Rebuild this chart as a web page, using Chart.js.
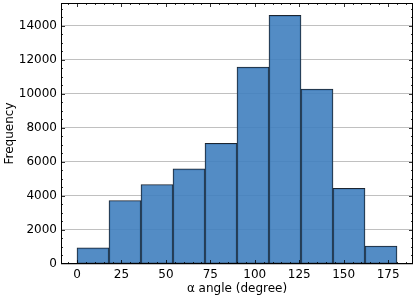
<!DOCTYPE html>
<html>
<head>
<meta charset="utf-8">
<script src="https://cdn.jsdelivr.net/npm/chart.js@4"></script>
<style>
  html, body { margin: 0; padding: 0; background: #fff; }
  #wrap { width: 415px; height: 299px; }
</style>
</head>
<body>
<div id="wrap"><canvas id="hist"></canvas></div>
<script>
// Histogram bins (degrees) and counts
const binEdges = [0, 18, 36, 54, 72, 90, 108, 126, 144, 162, 180];
const counts = [950, 3730, 4670, 5590, 7090, 11560, 14600, 10270, 4450, 1055];
const xTicks = [0, 25, 50, 75, 100, 125, 150, 175];
const yTicks = [0, 2000, 4000, 6000, 8000, 10000, 12000, 14000];

const histData = counts.map((c, i) => ({ x: (binEdges[i] + binEdges[i + 1]) / 2, y: c }));

// inward tick marks on all four sides, like the matplotlib style
const tickMarks = {
  id: "tickMarks",
  afterDraw(chart) {
    const ctx = chart.ctx;
    const xs = chart.scales.x, ys = chart.scales.y;
    const { left, right, top, bottom } = chart.chartArea;
    ctx.save();
    ctx.strokeStyle = "#000";
    ctx.lineWidth = 0.8;
    ctx.beginPath();
    for (let v = -5; v <= 185; v += 5) {
      const px = Math.round(xs.getPixelForValue(v)) + 0.5;
      if (px < left || px > right) continue;
      const len = v % 25 === 0 ? 4 : 2;
      ctx.moveTo(px, bottom); ctx.lineTo(px, bottom - len);
      ctx.moveTo(px, top); ctx.lineTo(px, top + len);
    }
    for (let v = 0; v <= 15000; v += 500) {
      const py = Math.round(ys.getPixelForValue(v)) + 0.5;
      if (py < top || py > bottom) continue;
      const len = v % 2000 === 0 ? 4 : 2;
      ctx.moveTo(left, py); ctx.lineTo(left + len, py);
      ctx.moveTo(right, py); ctx.lineTo(right - len, py);
    }
    ctx.stroke();
    ctx.lineWidth = 1;
    ctx.strokeRect(left + 0.5, top + 0.5, right - left - 1, bottom - top - 1);
    ctx.restore();
  }
};

Chart.defaults.font.family = "'DejaVu Sans', sans-serif";
Chart.defaults.color = "#000";

new Chart(document.getElementById("hist"), {
  type: "bar",
  data: {
    datasets: [{
      data: histData,
      backgroundColor: "rgba(64,128,191,0.9)",
      borderColor: "#1c2530",
      borderWidth: 1,
      barPercentage: 1,
      categoryPercentage: 1,
      borderSkipped: false
    }]
  },
  options: {
    responsive: true,
    maintainAspectRatio: false,
    animation: false,
    layout: { padding: { top: 3, right: 2, left: 0, bottom: 0 } },
    plugins: { legend: { display: false }, tooltip: { enabled: false } },
    scales: {
      x: {
        type: "linear",
        offset: false,
        min: -9,
        max: 189,
        afterBuildTicks: (s) => { s.ticks = xTicks.map(v => ({ value: v })); },
        afterFit: (s) => { s.height = 35; s.paddingLeft = 0; s.paddingRight = 0; },
        grid: { display: false, drawTicks: false, offset: false },
        border: { display: false },
        ticks: { font: { size: 12 }, padding: 4, maxRotation: 0, callback: (v) => String(v) },
        title: { display: true, text: "α angle (degree)", font: { size: 12 }, padding: { top: 1, bottom: 3 } }
      },
      y: {
        min: 0,
        max: 15330,
        afterBuildTicks: (s) => { s.ticks = yTicks.map(v => ({ value: v })); },
        afterFit: (s) => { s.width = 61; s.paddingTop = 0; s.paddingBottom = 0; },
        grid: { color: "#c0c0c0", lineWidth: 1, drawTicks: false },
        border: { display: false },
        ticks: { font: { size: 12 }, padding: 4, callback: (v) => String(v) },
        title: { display: true, text: "Frequency", font: { size: 12 }, padding: { top: 3, bottom: 2 } }
      }
    }
  },
  plugins: [tickMarks]
});
</script>
</body>
</html>
